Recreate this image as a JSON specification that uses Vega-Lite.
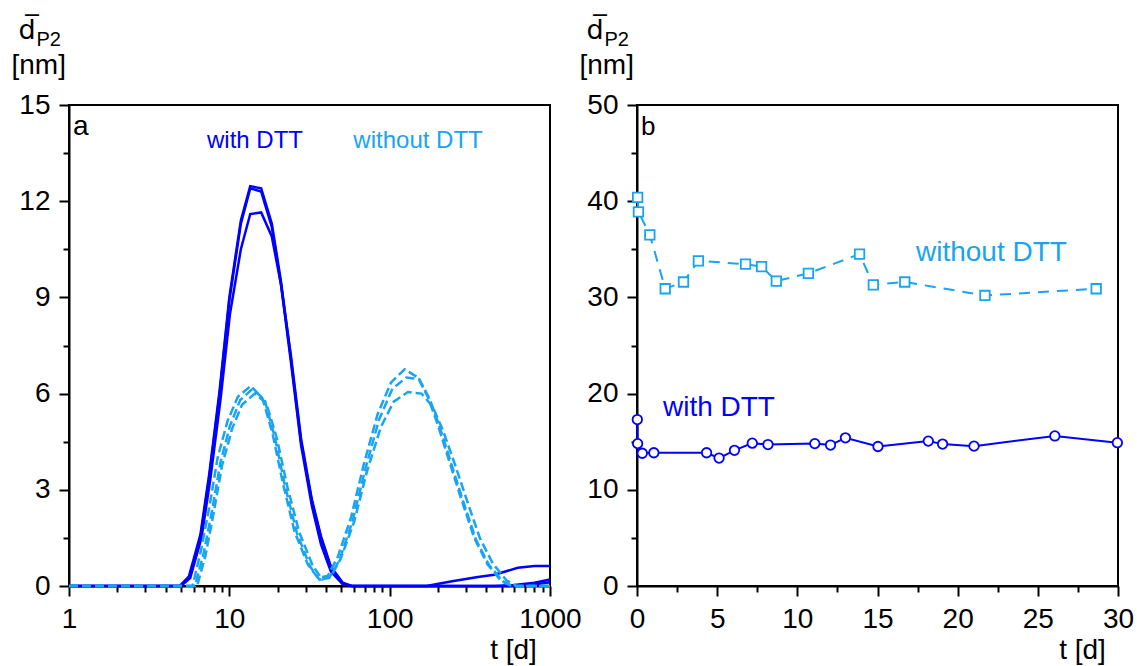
{
  "$schema": "https://vega.github.io/schema/vega-lite/v6.json",
  "background": "white",
  "padding": {"left": 10, "top": 15, "right": 15, "bottom": 5},
  "bounds": "flush",
  "spacing": 87,
  "config": {
    "view": {"stroke": "black", "strokeWidth": 2},
    "axis": {
      "grid": false, "domainColor": "black", "domainWidth": 2,
      "tickColor": "black", "tickWidth": 2, "tickSize": 10,
      "labelFont": "Liberation Sans", "labelFontSize": 28, "labelColor": "black",
      "titleFont": "Liberation Sans", "titleFontSize": 28, "titleFontWeight": "normal", "titleColor": "black",
      "labelOverlap": false, "labelFlush": false
    }
  },
  "datasets": {
    "curves": [
      {"s":"w1","g":"with","t":1,"d":0},{"s":"w1","g":"with","t":4.9,"d":0},{"s":"w1","g":"with","t":5.6,"d":0.3},{"s":"w1","g":"with","t":6.6,"d":1.6},{"s":"w1","g":"with","t":7.5,"d":3.5},{"s":"w1","g":"with","t":8.7,"d":6.1},{"s":"w1","g":"with","t":10,"d":9.0},{"s":"w1","g":"with","t":11.8,"d":11.4},{"s":"w1","g":"with","t":13.5,"d":12.47},{"s":"w1","g":"with","t":15.8,"d":12.4},{"s":"w1","g":"with","t":18.4,"d":11.3},{"s":"w1","g":"with","t":21,"d":9.5},{"s":"w1","g":"with","t":24.2,"d":7.1},{"s":"w1","g":"with","t":28,"d":4.5},{"s":"w1","g":"with","t":32.7,"d":2.65},{"s":"w1","g":"with","t":37.3,"d":1.5},{"s":"w1","g":"with","t":43,"d":0.57},{"s":"w1","g":"with","t":51,"d":0.07},{"s":"w1","g":"with","t":58,"d":0},{"s":"w1","g":"with","t":170,"d":0},{"s":"w1","g":"with","t":240,"d":0.14},{"s":"w1","g":"with","t":355,"d":0.28},{"s":"w1","g":"with","t":450,"d":0.35},{"s":"w1","g":"with","t":630,"d":0.57},{"s":"w1","g":"with","t":800,"d":0.62},{"s":"w1","g":"with","t":1000,"d":0.62},
      {"s":"w2","g":"with","t":1,"d":0},{"s":"w2","g":"with","t":4.9,"d":0},{"s":"w2","g":"with","t":5.6,"d":0.25},{"s":"w2","g":"with","t":6.6,"d":1.5},{"s":"w2","g":"with","t":7.5,"d":3.4},{"s":"w2","g":"with","t":8.7,"d":6.0},{"s":"w2","g":"with","t":10,"d":8.9},{"s":"w2","g":"with","t":11.8,"d":11.3},{"s":"w2","g":"with","t":13.5,"d":12.4},{"s":"w2","g":"with","t":15.8,"d":12.3},{"s":"w2","g":"with","t":18.4,"d":11.2},{"s":"w2","g":"with","t":21,"d":9.4},{"s":"w2","g":"with","t":24.2,"d":7.0},{"s":"w2","g":"with","t":28,"d":4.4},{"s":"w2","g":"with","t":32.7,"d":2.5},{"s":"w2","g":"with","t":37.3,"d":1.3},{"s":"w2","g":"with","t":43,"d":0.45},{"s":"w2","g":"with","t":51,"d":0.05},{"s":"w2","g":"with","t":58,"d":0},{"s":"w2","g":"with","t":450,"d":0},{"s":"w2","g":"with","t":600,"d":0.03},{"s":"w2","g":"with","t":800,"d":0.1},{"s":"w2","g":"with","t":1000,"d":0.2},
      {"s":"w3","g":"with","t":1,"d":0},{"s":"w3","g":"with","t":5.0,"d":0},{"s":"w3","g":"with","t":5.7,"d":0.25},{"s":"w3","g":"with","t":6.7,"d":1.5},{"s":"w3","g":"with","t":7.6,"d":3.3},{"s":"w3","g":"with","t":8.8,"d":5.8},{"s":"w3","g":"with","t":10.1,"d":8.5},{"s":"w3","g":"with","t":11.8,"d":10.5},{"s":"w3","g":"with","t":13.5,"d":11.6},{"s":"w3","g":"with","t":15.8,"d":11.65},{"s":"w3","g":"with","t":18.4,"d":10.9},{"s":"w3","g":"with","t":21,"d":9.4},{"s":"w3","g":"with","t":24.2,"d":7.2},{"s":"w3","g":"with","t":28,"d":4.6},{"s":"w3","g":"with","t":32.7,"d":2.7},{"s":"w3","g":"with","t":37.3,"d":1.55},{"s":"w3","g":"with","t":43,"d":0.6},{"s":"w3","g":"with","t":51,"d":0.1},{"s":"w3","g":"with","t":58,"d":0},{"s":"w3","g":"with","t":550,"d":0},{"s":"w3","g":"with","t":800,"d":0.05},{"s":"w3","g":"with","t":1000,"d":0.12},
      {"s":"o1","g":"without","t":1,"d":0},{"s":"o1","g":"without","t":5.9,"d":0},{"s":"o1","g":"without","t":6.65,"d":1.1},{"s":"o1","g":"without","t":7.5,"d":2.45},{"s":"o1","g":"without","t":8.45,"d":4.0},{"s":"o1","g":"without","t":9.75,"d":5.15},{"s":"o1","g":"without","t":11.3,"d":5.9},{"s":"o1","g":"without","t":13.6,"d":6.24},{"s":"o1","g":"without","t":16.1,"d":5.85},{"s":"o1","g":"without","t":18.6,"d":4.75},{"s":"o1","g":"without","t":21.6,"d":3.2},{"s":"o1","g":"without","t":25.5,"d":1.7},{"s":"o1","g":"without","t":30.8,"d":0.68},{"s":"o1","g":"without","t":35.6,"d":0.26},{"s":"o1","g":"without","t":41,"d":0.31},{"s":"o1","g":"without","t":47.4,"d":0.9},{"s":"o1","g":"without","t":57.5,"d":2.15},{"s":"o1","g":"without","t":69,"d":3.8},{"s":"o1","g":"without","t":84,"d":5.35},{"s":"o1","g":"without","t":102,"d":6.35},{"s":"o1","g":"without","t":124,"d":6.76},{"s":"o1","g":"without","t":150,"d":6.5},{"s":"o1","g":"without","t":173,"d":5.9},{"s":"o1","g":"without","t":199,"d":5.05},{"s":"o1","g":"without","t":235,"d":3.9},{"s":"o1","g":"without","t":278,"d":2.75},{"s":"o1","g":"without","t":337,"d":1.5},{"s":"o1","g":"without","t":407,"d":0.68},{"s":"o1","g":"without","t":496,"d":0.16},{"s":"o1","g":"without","t":573,"d":0},{"s":"o1","g":"without","t":1000,"d":0},
      {"s":"o2","g":"without","t":1,"d":0},{"s":"o2","g":"without","t":6.1,"d":0},{"s":"o2","g":"without","t":6.9,"d":1.0},{"s":"o2","g":"without","t":7.8,"d":2.35},{"s":"o2","g":"without","t":8.8,"d":3.85},{"s":"o2","g":"without","t":10.1,"d":5.0},{"s":"o2","g":"without","t":11.7,"d":5.8},{"s":"o2","g":"without","t":14,"d":6.15},{"s":"o2","g":"without","t":16.6,"d":5.8},{"s":"o2","g":"without","t":19.2,"d":4.65},{"s":"o2","g":"without","t":22.3,"d":3.1},{"s":"o2","g":"without","t":26.4,"d":1.65},{"s":"o2","g":"without","t":31.8,"d":0.62},{"s":"o2","g":"without","t":36.5,"d":0.2},{"s":"o2","g":"without","t":42,"d":0.25},{"s":"o2","g":"without","t":48.5,"d":0.8},{"s":"o2","g":"without","t":58.5,"d":2.0},{"s":"o2","g":"without","t":70.5,"d":3.65},{"s":"o2","g":"without","t":86,"d":5.2},{"s":"o2","g":"without","t":104,"d":6.15},{"s":"o2","g":"without","t":127,"d":6.5},{"s":"o2","g":"without","t":153,"d":6.45},{"s":"o2","g":"without","t":177,"d":5.85},{"s":"o2","g":"without","t":204,"d":5.0},{"s":"o2","g":"without","t":241,"d":3.85},{"s":"o2","g":"without","t":285,"d":2.7},{"s":"o2","g":"without","t":345,"d":1.45},{"s":"o2","g":"without","t":417,"d":0.65},{"s":"o2","g":"without","t":508,"d":0.15},{"s":"o2","g":"without","t":585,"d":0},{"s":"o2","g":"without","t":1000,"d":0},
      {"s":"o3","g":"without","t":1,"d":0},{"s":"o3","g":"without","t":6.3,"d":0},{"s":"o3","g":"without","t":7.1,"d":0.95},{"s":"o3","g":"without","t":8.0,"d":2.3},{"s":"o3","g":"without","t":9.0,"d":3.75},{"s":"o3","g":"without","t":10.4,"d":4.9},{"s":"o3","g":"without","t":12,"d":5.65},{"s":"o3","g":"without","t":14.4,"d":6.0},{"s":"o3","g":"without","t":17,"d":5.7},{"s":"o3","g":"without","t":19.8,"d":4.6},{"s":"o3","g":"without","t":23,"d":3.1},{"s":"o3","g":"without","t":27.2,"d":1.7},{"s":"o3","g":"without","t":33,"d":0.65},{"s":"o3","g":"without","t":38,"d":0.2},{"s":"o3","g":"without","t":43,"d":0.3},{"s":"o3","g":"without","t":49.5,"d":0.85},{"s":"o3","g":"without","t":60,"d":2.0},{"s":"o3","g":"without","t":72,"d":3.55},{"s":"o3","g":"without","t":88,"d":4.95},{"s":"o3","g":"without","t":106,"d":5.75},{"s":"o3","g":"without","t":130,"d":6.05},{"s":"o3","g":"without","t":158,"d":6.0},{"s":"o3","g":"without","t":185,"d":5.6},{"s":"o3","g":"without","t":215,"d":4.85},{"s":"o3","g":"without","t":255,"d":3.8},{"s":"o3","g":"without","t":302,"d":2.7},{"s":"o3","g":"without","t":365,"d":1.5},{"s":"o3","g":"without","t":440,"d":0.7},{"s":"o3","g":"without","t":535,"d":0.18},{"s":"o3","g":"without","t":620,"d":0},{"s":"o3","g":"without","t":1000,"d":0}
    ],
    "pts": [
      {"g":"without","t":0.04,"d":40.4},{"g":"without","t":0.09,"d":38.9},{"g":"without","t":0.8,"d":36.5},{"g":"without","t":1.76,"d":30.9},{"g":"without","t":2.9,"d":31.6},{"g":"without","t":3.83,"d":33.8},{"g":"without","t":6.77,"d":33.45},{"g":"without","t":7.77,"d":33.2},{"g":"without","t":8.69,"d":31.7},{"g":"without","t":10.69,"d":32.5},{"g":"without","t":13.88,"d":34.5},{"g":"without","t":14.74,"d":31.3},{"g":"without","t":16.7,"d":31.6},{"g":"without","t":21.7,"d":30.2},{"g":"without","t":28.64,"d":30.9},
      {"g":"with","t":0.02,"d":17.3},{"g":"with","t":0.04,"d":14.8},{"g":"with","t":0.33,"d":13.8},{"g":"with","t":1.05,"d":13.85},{"g":"with","t":4.34,"d":13.85},{"g":"with","t":5.12,"d":13.3},{"g":"with","t":6.08,"d":14.1},{"g":"with","t":7.19,"d":14.85},{"g":"with","t":8.17,"d":14.7},{"g":"with","t":11.09,"d":14.8},{"g":"with","t":12.07,"d":14.65},{"g":"with","t":13.0,"d":15.4},{"g":"with","t":15.03,"d":14.5},{"g":"with","t":18.17,"d":15.06},{"g":"with","t":19.06,"d":14.75},{"g":"with","t":21.02,"d":14.54},{"g":"with","t":26.06,"d":15.6},{"g":"with","t":29.96,"d":14.9}
    ],
    "labels": [
      {"panel":"a","g":"with","t":14.45,"d":13.66,"label":"with DTT"},
      {"panel":"a","g":"without","t":150.3,"d":13.66,"label":"without DTT"},
      {"panel":"b","g":"without","t":17.4,"d":33.78,"label":"without DTT"},
      {"panel":"b","g":"with","t":1.62,"d":17.67,"label":"with DTT"}
    ],
    "letters": [
      {"panel":"a","t":1.06,"d":14.06,"label":"a"},
      {"panel":"b","t":0.25,"d":46.88,"label":"b"}
    ]
  },
  "hconcat": [
    {
      "width": 481, "height": 481,
      "encoding": {
        "x": {"field": "t", "type": "quantitative",
          "scale": {"type": "log", "domain": [1, 1000]},
          "axis": {
            "values": [1,2,3,4,5,6,7,8,9,10,20,30,40,50,60,70,80,90,100,200,300,400,500,600,700,800,900,1000],
            "labelExpr": "indexof([1,10,100,1000], datum.value) >= 0 ? '' + datum.value : ''",
            "tickSize": {"condition": {"test": "indexof([1,10,100,1000], datum.value) >= 0", "value": 10}, "value": 6},
            "labelPadding": 9,
            "title": "t [d]", "titleX": 444, "titleY": 72, "titleAlign": "center", "titleBaseline": "alphabetic"
          }
        }
      },
      "resolve": {"scale": {"y": "independent"}},
      "layer": [
        {
          "data": {"name": "curves"},
          "transform": [{"filter": "datum.g == 'with'"}],
          "mark": {"type": "line", "color": "#0000ff", "strokeWidth": 2.5},
          "encoding": {
            "detail": {"field": "s"},
            "y": {"field": "d", "type": "quantitative", "scale": {"domain": [0, 15]},
              "axis": {
                "values": [0,1.5,3,4.5,6,7.5,9,10.5,12,13.5,15],
                "labelExpr": "datum.value % 3 == 0 ? '' + datum.value : ''",
                "tickSize": {"condition": {"test": "datum.value % 3 == 0", "value": 10}, "value": 6},
                "labelPadding": 9,
                "title": "[nm]", "titleAngle": 0, "titleAlign": "left", "titleBaseline": "alphabetic", "titleX": -58, "titleY": -32
              }
            }
          }
        },
        {
          "data": {"name": "curves"},
          "transform": [{"filter": "datum.g == 'without'"}],
          "mark": {"type": "line", "color": "#18a4f0", "strokeWidth": 2.5, "strokeDash": [9, 4]},
          "encoding": {
            "detail": {"field": "s"},
            "y": {"field": "d", "type": "quantitative", "scale": {"domain": [0, 15]},
              "axis": {"orient": "left", "labels": false, "ticks": false, "domain": false,
                "title": "d\u0305", "titleFont": "DejaVu Sans", "titleFontSize": 27, "titleAngle": 0, "titleAlign": "left", "titleBaseline": "alphabetic", "titleX": -51, "titleY": -67}
            }
          }
        },
        {
          "data": {"name": "labels"},
          "transform": [{"filter": "datum.panel == 'a'"}],
          "mark": {"type": "text", "font": "Liberation Sans", "fontSize": 24, "align": "center", "baseline": "alphabetic"},
          "encoding": {
            "text": {"field": "label"},
            "color": {"field": "g", "type": "nominal", "scale": {"domain": ["with", "without"], "range": ["#0000ff", "#18a4f0"]}, "legend": null},
            "y": {"field": "d", "type": "quantitative", "scale": {"domain": [0, 15]},
              "axis": {"orient": "left", "labels": false, "ticks": false, "domain": false,
                "title": "P2", "titleFontSize": 20, "titleAngle": 0, "titleAlign": "left", "titleBaseline": "alphabetic", "titleX": -33, "titleY": -60}
            }
          }
        },
        {
          "data": {"name": "letters"},
          "transform": [{"filter": "datum.panel == 'a'"}],
          "mark": {"type": "text", "font": "Liberation Sans", "fontSize": 28, "align": "left", "baseline": "alphabetic", "color": "black"},
          "encoding": {
            "text": {"field": "label"},
            "y": {"field": "d", "type": "quantitative", "scale": {"domain": [0, 15]}, "axis": null}
          }
        }
      ]
    },
    {
      "width": 481, "height": 481,
      "encoding": {
        "x": {"field": "t", "type": "quantitative",
          "scale": {"domain": [0, 30], "nice": false, "zero": false},
          "axis": {
            "values": [0,2.5,5,7.5,10,12.5,15,17.5,20,22.5,25,27.5,30],
            "labelExpr": "datum.value % 5 == 0 ? '' + datum.value : ''",
            "tickSize": {"condition": {"test": "datum.value % 5 == 0", "value": 10}, "value": 6},
            "labelPadding": 9,
            "title": "t [d]", "titleX": 445, "titleY": 72, "titleAlign": "center", "titleBaseline": "alphabetic"
          }
        }
      },
      "resolve": {"scale": {"y": "independent"}},
      "layer": [
        {
          "data": {"name": "pts"},
          "transform": [{"filter": "datum.g == 'with'"}],
          "mark": {"type": "line", "color": "#0000ff", "strokeWidth": 2},
          "encoding": {
            "y": {"field": "d", "type": "quantitative", "scale": {"domain": [0, 50]},
              "axis": {
                "values": [0,5,10,15,20,25,30,35,40,45,50],
                "labelExpr": "datum.value % 10 == 0 ? '' + datum.value : ''",
                "tickSize": {"condition": {"test": "datum.value % 10 == 0", "value": 10}, "value": 6},
                "labelPadding": 9,
                "title": "[nm]", "titleAngle": 0, "titleAlign": "left", "titleBaseline": "alphabetic", "titleX": -58, "titleY": -32
              }
            }
          }
        },
        {
          "data": {"name": "pts"},
          "transform": [{"filter": "datum.g == 'without'"}],
          "mark": {"type": "line", "color": "#18a4f0", "strokeWidth": 2, "strokeDash": [11, 8]},
          "encoding": {
            "y": {"field": "d", "type": "quantitative", "scale": {"domain": [0, 50]},
              "axis": {"orient": "left", "labels": false, "ticks": false, "domain": false,
                "title": "d\u0305", "titleFont": "DejaVu Sans", "titleFontSize": 27, "titleAngle": 0, "titleAlign": "left", "titleBaseline": "alphabetic", "titleX": -51, "titleY": -67}
            }
          }
        },
        {
          "data": {"name": "pts"},
          "transform": [{"filter": "datum.g == 'with'"}],
          "mark": {"type": "point", "shape": "circle", "size": 90, "filled": true, "fill": "white", "stroke": "#0000ff", "strokeWidth": 1.8, "opacity": 1},
          "encoding": {
            "y": {"field": "d", "type": "quantitative", "scale": {"domain": [0, 50]},
              "axis": {"orient": "left", "labels": false, "ticks": false, "domain": false,
                "title": "P2", "titleFontSize": 20, "titleAngle": 0, "titleAlign": "left", "titleBaseline": "alphabetic", "titleX": -33, "titleY": -60}
            }
          }
        },
        {
          "data": {"name": "pts"},
          "transform": [{"filter": "datum.g == 'without'"}],
          "mark": {"type": "point", "shape": "square", "size": 90, "filled": true, "fill": "white", "stroke": "#18a4f0", "strokeWidth": 1.8, "opacity": 1},
          "encoding": {
            "y": {"field": "d", "type": "quantitative", "scale": {"domain": [0, 50]}, "axis": null}
          }
        },
        {
          "data": {"name": "labels"},
          "transform": [{"filter": "datum.panel == 'b'"}],
          "mark": {"type": "text", "font": "Liberation Sans", "fontSize": 28, "align": "left", "baseline": "alphabetic"},
          "encoding": {
            "text": {"field": "label"},
            "color": {"field": "g", "type": "nominal", "scale": {"domain": ["with", "without"], "range": ["#0000ff", "#18a4f0"]}, "legend": null},
            "y": {"field": "d", "type": "quantitative", "scale": {"domain": [0, 50]}, "axis": null}
          }
        },
        {
          "data": {"name": "letters"},
          "transform": [{"filter": "datum.panel == 'b'"}],
          "mark": {"type": "text", "font": "Liberation Sans", "fontSize": 26, "align": "left", "baseline": "alphabetic", "color": "black"},
          "encoding": {
            "text": {"field": "label"},
            "y": {"field": "d", "type": "quantitative", "scale": {"domain": [0, 50]}, "axis": null}
          }
        }
      ]
    }
  ]
}
